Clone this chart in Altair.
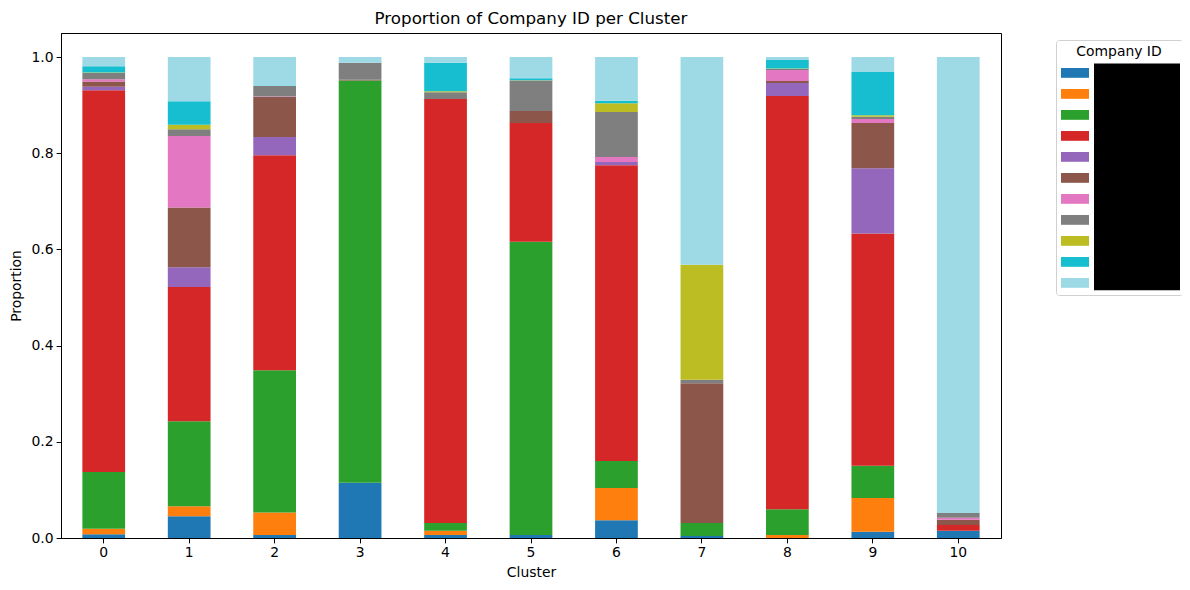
import altair as alt
import pandas as pd

clusters = [str(i) for i in range(11)]
company_ids = ["Company 01", "Company 02", "Company 03", "Company 04", "Company 05",
               "Company 06", "Company 07", "Company 08", "Company 09", "Company 10",
               "Company 11"]
colors = ["#1f77b4", "#ff7f0e", "#2ca02c", "#d62728", "#9467bd", "#8c564b",
          "#e377c2", "#7f7f7f", "#bcbd22", "#17becf", "#9edae5"]

# proportion of each company within each cluster (clusters 0..10)
c01 = [0.008, 0.045, 0.006, 0.115, 0.006, 0.006, 0.037, 0.004, 0.000, 0.013, 0.015]
c02 = [0.011, 0.021, 0.047, 0.000, 0.009, 0.000, 0.067, 0.000, 0.006, 0.070, 0.000]
c03 = [0.118, 0.177, 0.296, 0.836, 0.016, 0.610, 0.056, 0.027, 0.054, 0.067, 0.000]
c04 = [0.794, 0.279, 0.447, 0.000, 0.882, 0.247, 0.615, 0.000, 0.859, 0.483, 0.012]
c05 = [0.007, 0.041, 0.038, 0.000, 0.000, 0.000, 0.007, 0.000, 0.027, 0.136, 0.000]
c06 = [0.011, 0.124, 0.083, 0.002, 0.000, 0.025, 0.000, 0.291, 0.004, 0.094, 0.011]
c07 = [0.005, 0.149, 0.001, 0.000, 0.000, 0.000, 0.010, 0.000, 0.023, 0.008, 0.004]
c08 = [0.013, 0.014, 0.022, 0.035, 0.014, 0.063, 0.094, 0.007, 0.002, 0.005, 0.010]
c09 = [0.001, 0.009, 0.000, 0.000, 0.002, 0.001, 0.018, 0.239, 0.001, 0.003, 0.000]
c10 = [0.013, 0.049, 0.001, 0.000, 0.059, 0.004, 0.005, 0.000, 0.018, 0.090, 0.000]
c11 = [0.019, 0.092, 0.059, 0.012, 0.012, 0.044, 0.091, 0.432, 0.006, 0.031, 0.948]

series = [c01, c02, c03, c04, c05, c06, c07, c08, c09, c10, c11]

rows = []
for idx, (cid, vals) in enumerate(zip(company_ids, series)):
    for cl, v in zip(clusters, vals):
        rows.append({"Cluster": cl, "Company ID": cid, "Proportion": v, "idx": idx})
df = pd.DataFrame(rows)

FONT = "DejaVu Sans"

bars = alt.Chart(df).mark_bar(strokeWidth=0).encode(
    x=alt.X("Cluster:N", sort=clusters,
            scale=alt.Scale(paddingInner=0.5, paddingOuter=0.25),
            axis=alt.Axis(labelAngle=0, title="Cluster")),
    y=alt.Y("Proportion:Q", stack="zero",
            scale=alt.Scale(domain=[0, 1.05], nice=False, zero=True),
            axis=alt.Axis(values=[0, 0.2, 0.4, 0.6, 0.8, 1.0], format=".1f",
                          title="Proportion")),
    color=alt.Color("Company ID:N", sort=company_ids,
                    scale=alt.Scale(domain=company_ids, range=colors),
                    legend=alt.Legend(
                        title="Company ID", orient="none",
                        legendX=995, legendY=7,
                        symbolType="M-1,-0.35L1,-0.35L1,0.35L-1,0.35Z",
                        symbolSize=784, symbolStrokeWidth=0,
                        labelFont=FONT, labelFontSize=13.2, labelColor="black",
                        titleFont=FONT, titleFontSize=13.9, titleFontWeight="normal",
                        titleColor="black", titleAnchor="middle", titleAlign="center",
                        titlePadding=0, rowPadding=0, labelOffset=5,
                        padding=5, strokeColor="#d0d0d0", cornerRadius=3,
                    )),
    order=alt.Order("idx:Q", sort="ascending"),
)

redact = alt.Chart(alt.Data(values=[{"k": 1}])).mark_rect(color="black").encode(
    x=alt.value(1033), x2=alt.value(1119), y=alt.value(30.6), y2=alt.value(257.3)
)

chart = alt.layer(bars, redact).properties(
    width=940, height=505,
    autosize=alt.AutoSizeParams(type="none"),
    padding={"left": 53, "top": 25, "right": 181, "bottom": 42},
    title=alt.TitleParams("Proportion of Company ID per Cluster", font=FONT,
                          fontSize=16.7, fontWeight="normal", color="black",
                          anchor="middle", frame="group", offset=5),
).configure_view(
    stroke="black", strokeWidth=1
).configure_axis(
    grid=False, domainColor="black", domainWidth=1, tickColor="black",
    tickSize=4.9, tickWidth=1, labelFont=FONT, labelFontSize=13.9,
    labelColor="black", titleFont=FONT, titleFontSize=13.9,
    titleFontWeight="normal", titleColor="black", labelPadding=3,
).configure_axisY(titlePadding=8).configure_axisX(titlePadding=6)

chart.save("out.html", embed_options={"renderer": "svg", "actions": False})
